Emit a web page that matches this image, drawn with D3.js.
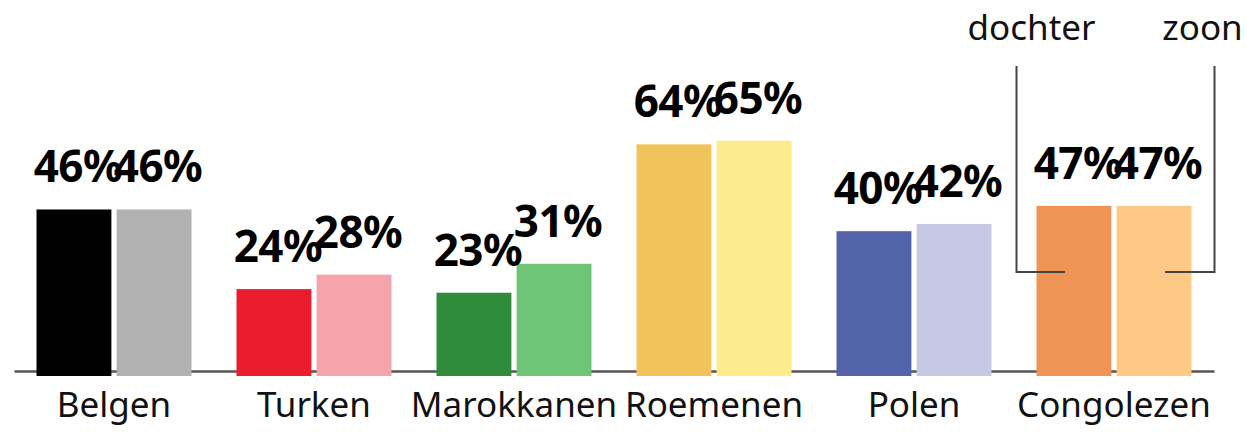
<!DOCTYPE html>
<html>
<head>
<meta charset="utf-8">
<script src="https://cdn.jsdelivr.net/npm/d3@7"></script>
<style>
  body { margin: 0; background: #fff; }
  svg { display: block; font-family: "Noto Sans", sans-serif; }
</style>
</head>
<body>
<div id="chart"></div>
<script>
const categories = ["Belgen", "Turken", "Marokkanen", "Roemenen", "Polen", "Congolezen"];
const seriesKeys = ["dochter", "zoon"];
const dochter = [46, 24, 23, 64, 40, 47];
const zoon = [46, 28, 31, 65, 42, 47];
const colorsDochter = ["#000000", "#ec1c2f", "#2f8c3a", "#f1c45b", "#5363a9", "#f09456"];
const colorsZoon = ["#b1b1b1", "#f5a4ac", "#6dc575", "#feeb8b", "#c7c8e3", "#fec984"];

const width = 1247, height = 433;

const data = categories.map((c, i) => ({
  cat: c,
  values: [
    { key: "dochter", value: dochter[i], color: colorsDochter[i] },
    { key: "zoon", value: zoon[i], color: colorsZoon[i] }
  ]
}));

const x0 = d3.scaleBand()
  .domain(categories)
  .range([14, 1214])
  .paddingInner(0.225)
  .paddingOuter(0.1125);

const x1 = d3.scaleBand()
  .domain(seriesKeys)
  .range([0, x0.bandwidth()])
  .paddingInner(0.065);

const y = d3.scaleLinear()
  .domain([0, 100])
  .range([376, 14]);

const svg = d3.select("#chart").append("svg")
  .attr("width", width)
  .attr("height", height);

// Axis line + category labels
const axis = svg.append("g")
  .attr("transform", `translate(0,${y(0) - 5})`)
  .call(d3.axisBottom(x0).tickSize(0).tickPadding(21));

axis.select(".domain")
  .attr("stroke", "#555")
  .attr("stroke-width", 2.5);

axis.selectAll("text")
  .attr("fill", "#111")
  .style("font-family", "'Noto Sans', sans-serif")
  .style("font-size", "35px");

// Bars
const groups = svg.append("g")
  .selectAll("g")
  .data(data)
  .join("g")
  .attr("transform", d => `translate(${x0(d.cat)},0)`);

groups.selectAll("rect")
  .data(d => d.values)
  .join("rect")
  .attr("x", d => x1(d.key))
  .attr("y", d => y(d.value))
  .attr("width", x1.bandwidth())
  .attr("height", d => y(0) - y(d.value))
  .attr("fill", d => d.color);

// Value labels
groups.selectAll("text.val")
  .data(d => d.values)
  .join("text")
  .attr("class", "val")
  .attr("x", d => x1(d.key) + x1.bandwidth() / 2 + 4)
  .attr("y", d => y(d.value) - 27)
  .attr("text-anchor", "middle")
  .attr("fill", "#000")
  .style("font-size", "44px")
  .style("font-weight", "bold")
  .style("letter-spacing", "-0.5px")
  .text(d => d.value + "%");

// Legend brackets on the last group
const last = categories[categories.length - 1];
const lx = x0(last) + x1("dochter") - 20;
const rx = x0(last) + x1("zoon") + x1.bandwidth() + 23;
const bracketTop = 66, bracketBottom = 272;
const legend = svg.append("g")
  .attr("fill", "none")
  .attr("stroke", "#444")
  .attr("stroke-width", 2);

legend.append("path")
  .attr("d", `M${lx},${bracketTop}V${bracketBottom}H${x0(last) + x1("dochter") + x1.bandwidth() / 2 - 9}`);
legend.append("path")
  .attr("d", `M${rx},${bracketTop}V${bracketBottom}H${x0(last) + x1("zoon") + x1.bandwidth() / 2 + 11}`);

svg.append("text")
  .attr("x", lx + 15)
  .attr("y", 40)
  .attr("text-anchor", "middle")
  .attr("fill", "#111")
  .style("font-size", "35px")
  .text("dochter");

svg.append("text")
  .attr("x", rx - 12)
  .attr("y", 40)
  .attr("text-anchor", "middle")
  .attr("fill", "#111")
  .style("font-size", "35px")
  .text("zoon");
</script>
</body>
</html>
